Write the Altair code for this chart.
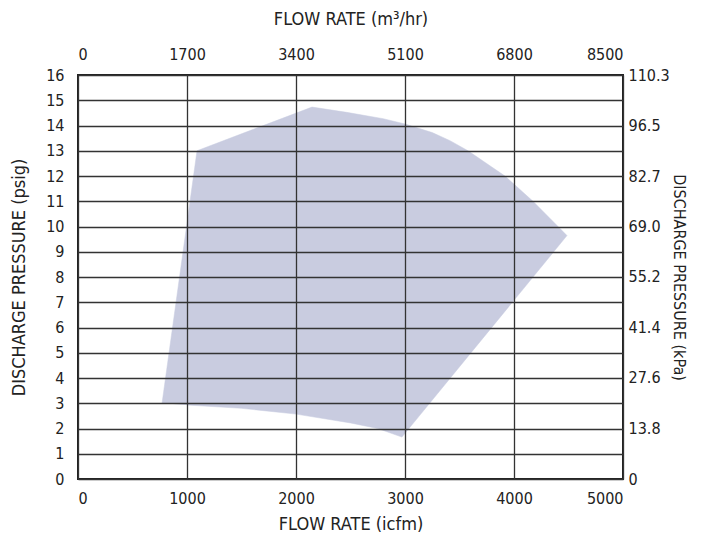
import altair as alt
import pandas as pd

# Operating envelope outline (icfm, psig), walked around the polygon
env_icfm = [771, 1092, 2147, 2465, 2800, 3000, 3250, 3413, 3578, 3917, 4174, 4404, 4486,
            2972, 2750, 2500, 2000, 1500, 1000]
env_psig = [3.0, 13.0, 14.73, 14.52, 14.27, 14.06, 13.72, 13.4, 13.0, 12.0, 11.0, 10.0, 9.64,
            1.66, 2.0, 2.22, 2.57, 2.8, 2.93]

icfm_ticks = [0, 1000, 2000, 3000, 4000, 5000]
psig_ticks = list(range(0, 17))
m3hr_ticks = [0, 1700, 3400, 5100, 6800, 8500]
kpa_ticks = [0, 13.8, 27.6, 41.4, 55.2, 69.0, 82.7, 96.5, 110.3]

FONT = "DejaVu Sans Condensed, sans-serif"
FILL = "#c9cce0"
GRID = "#333333"

env = pd.DataFrame({"icfm": env_icfm, "psig": env_psig, "i": range(len(env_icfm))})
sec = pd.DataFrame({"m3hr": [m3hr_ticks[0], m3hr_ticks[-1]], "kpa": [kpa_ticks[0], kpa_ticks[-1]]})

poly = alt.Chart(env).mark_line(fill=FILL, stroke=FILL, strokeWidth=0.5, interpolate="linear").encode(
    x=alt.X("icfm:Q", scale=alt.Scale(domain=[0, 5000], nice=False),
            axis=alt.Axis(values=icfm_ticks, format="d", title="FLOW RATE (icfm)", orient="bottom",
                          grid=True, gridColor=GRID, gridWidth=1.3, gridOpacity=1,
                          ticks=False, domain=False, labelPadding=11, titlePadding=9,
                          zindex=1)),
    y=alt.Y("psig:Q", scale=alt.Scale(domain=[0, 16], nice=False),
            axis=alt.Axis(values=psig_ticks, format="d", title="DISCHARGE PRESSURE (psig)", orient="left",
                          grid=True, gridColor=GRID, gridWidth=1.3, gridOpacity=1,
                          ticks=False, domain=False, labelPadding=14, titlePadding=17,
                          zindex=1)),
    order="i:Q",
)

secondary = alt.Chart(sec).mark_point(opacity=0).encode(
    x=alt.X("m3hr:Q", scale=alt.Scale(domain=[0, 8500], nice=False),
            axis=alt.Axis(values=m3hr_ticks, format="d", title="FLOW RATE (m³/hr)", orient="top",
                          grid=False, ticks=False, domain=False, labelPadding=13, titlePadding=18)),
    y=alt.Y("kpa:Q", scale=alt.Scale(domain=[0, 110.3], nice=False),
            axis=alt.Axis(values=kpa_ticks, title="DISCHARGE PRESSURE (kPa)", orient="right",
                          grid=False, ticks=False, domain=False, labelPadding=5, titlePadding=1,
                          titleFontSize=16,
                          labelExpr="datum.value == 0 ? '0' : format(datum.value, '.1f')")),
)

chart = alt.layer(poly, secondary).resolve_scale(x="independent", y="independent").properties(
    width=545, height=404, background="white",
    padding={"left": 2, "top": 2, "right": 4, "bottom": 0}
).configure_view(stroke="#222222", strokeWidth=2).configure_axis(
    labelFont=FONT, titleFont=FONT, labelFontSize=16, titleFontSize=18,
    labelColor="#222222", titleColor="#222222", titleFontWeight="normal",
)

chart.save("out.html", embed_options={"renderer": "svg", "actions": False})
